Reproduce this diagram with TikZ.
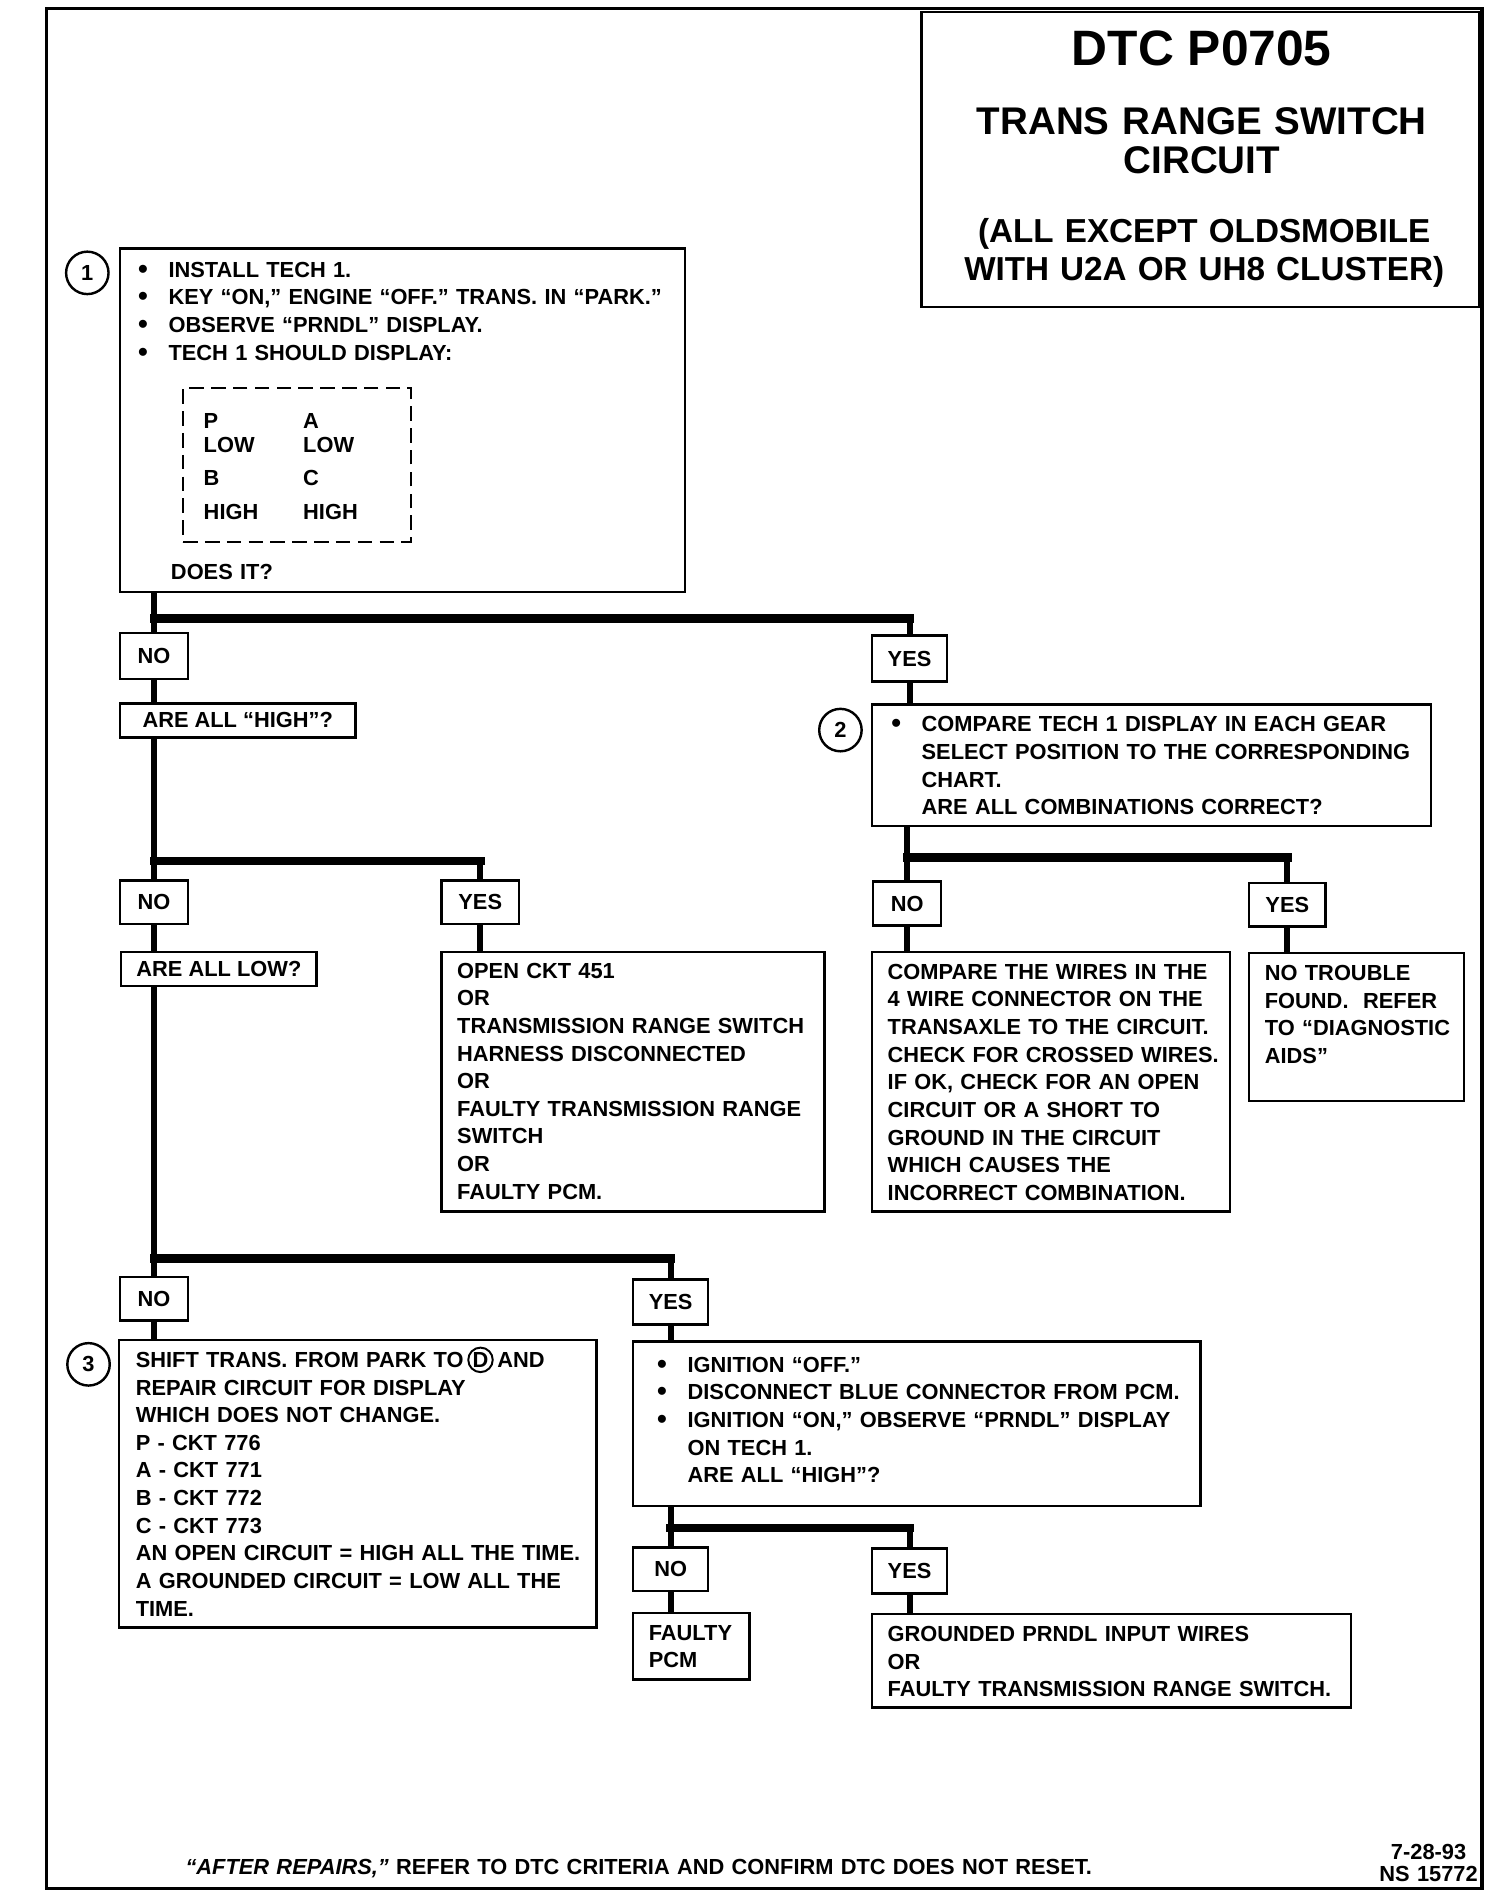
\documentclass[tikz,border=0pt]{standalone}
\usepackage{fontspec}
\setmainfont{Liberation Sans}
\usetikzlibrary{calc}
\tikzset{
  boxst/.style={draw, line width=1pt, inner sep=0pt, outer sep=0pt},
  lbl/.style={font=\fontsize{9}{11}\selectfont\bfseries},
  txt/.style={anchor=base west, inner sep=0pt, outer sep=0pt, align=left,
              font=\fontsize{9}{11.4}\selectfont\bfseries},
  vl/.style={line width=2.5pt},
  hb/.style={line width=3.6pt, line cap=rect},
  numc/.style={circle, draw, line width=1pt, minimum size=17.5pt, inner sep=0pt,
               font=\fontsize{9}{10}\selectfont\bfseries},
  ttl/.style={anchor=base, inner sep=0pt, align=center, text width=225pt,
              font=\fontsize{15.9}{16}\selectfont\bfseries}
}
\newcommand\mybox[5]{\node[boxst, minimum width={(#4-#2)*0.5pt}, minimum height={(#5-#3)*0.5pt}] (#1) at ({(#2+#4)/2},{(#3+#5)/2}) {};}
\newcommand\mylbox[6]{\node[boxst, lbl, minimum width={(#4-#2)*0.5pt}, minimum height={(#5-#3)*0.5pt}] (#1) at ({(#2+#4)/2},{(#3+#5)/2}) {#6};}
\newcommand\bul{\leavevmode\llap{{\fontsize{11.5}{11.4}\selectfont\raisebox{-0.4pt}{\textbullet}}\hspace{8.5pt}}}
\newcommand\circD{\tikz[baseline=(dcirc.base)]\node[circle, draw, line width=0.8pt, inner sep=0.4pt, minimum size=9pt] (dcirc) {D};}
\begin{document}
\begin{tikzpicture}[x=0.5pt,y=-0.5pt]
\useasboundingbox (0,0) rectangle (1240,1570);
\fill[white] (0,0) rectangle (1240,1570);
% frame and title
\node[draw, line width=1.3pt, inner sep=0pt, minimum width=592pt, minimum height=775pt] (frame) at (630,782) {};
\mybox{title}{760}{10}{1220}{253}
\node[anchor=base, inner sep=0pt, font=\fontsize{20.5}{22}\selectfont\bfseries] (tt1) at (991,54) {DTC P0705};
\node[ttl] (tt2) at (991,111) {TRANS RANGE SWITCH\\CIRCUIT};
\node[ttl, font=\fontsize{13.7}{15.5}\selectfont\bfseries] (tt3) at (993,200) {(ALL EXCEPT OLDSMOBILE\\WITH U2A OR UH8 CLUSTER)};
% box 1
\mybox{b1}{99}{205}{565}{488}
\node[numc] (c1) at (72,225) {1};
\node[txt, text width=212pt] (b1t) at (139,228.5) {\bul INSTALL TECH 1.\\\bul KEY “ON,” ENGINE “OFF.” TRANS. IN “PARK.”\\\bul OBSERVE “PRNDL” DISPLAY.\\\bul TECH 1 SHOULD DISPLAY:};
\node[draw, dashed, dash pattern=on 6pt off 3pt, line width=0.9pt, inner sep=0pt, minimum width=94pt, minimum height=63.5pt] (dsh) at (245,383.5) {};
\node[txt, text width=30pt] (dc1) at (168,353.5) {P\\[-1.4pt]LOW\\[2.1pt]B\\[2.6pt]HIGH};
\node[txt, text width=30pt] (dc2) at (250,353.5) {A\\[-1.4pt]LOW\\[2.1pt]C\\[2.6pt]HIGH};
\node[txt, text width=60pt] (doesit) at (141,477.5) {DOES IT?};
% level 1
\mylbox{no1}{99}{522}{155}{560}{NO}
\mylbox{yes1}{719}{524}{781}{562}{YES}
\mylbox{aah}{99}{580}{293}{608}{ARE ALL “HIGH”?\hspace{5pt}}
% box 2
\mybox{b2}{719}{581}{1180}{681}
\node[numc] (c2) at (693,602) {2};
\node[txt, text width=208pt] (b2t) at (760,603.5) {\bul COMPARE TECH 1 DISPLAY IN EACH GEAR\\SELECT POSITION TO THE CORRESPONDING\\CHART.\\ARE ALL COMBINATIONS CORRECT?};
% level 2 left
\mylbox{no2}{99}{726}{155}{762}{NO}
\mylbox{yes2}{364}{726}{428}{762}{YES}
\mylbox{aal}{100}{785}{261}{813}{ARE ALL LOW?}
\mybox{open}{364}{785}{680}{999}
\node[txt, text width=150pt] (opent) at (377,806.5) {OPEN CKT 451\\OR\\TRANSMISSION RANGE SWITCH\\HARNESS DISCONNECTED\\OR\\FAULTY TRANSMISSION RANGE\\SWITCH\\OR\\FAULTY PCM.};
% level 2 right
\mylbox{no3}{720}{727}{776}{763}{NO}
\mylbox{yes3}{1030}{728}{1093}{764}{YES}
\mybox{cmp}{719}{785}{1014}{999}
\node[txt, text width=140pt] (cmpt) at (732,807.5) {COMPARE THE WIRES IN THE\\4 WIRE CONNECTOR ON THE\\TRANSAXLE TO THE CIRCUIT.\\CHECK FOR CROSSED WIRES.\\IF OK, CHECK FOR AN OPEN\\CIRCUIT OR A SHORT TO\\GROUND IN THE CIRCUIT\\WHICH CAUSES THE\\INCORRECT COMBINATION.};
\mybox{ntf}{1030}{786}{1207}{908}
\node[txt, text width=81pt] (ntft) at (1043,808.5) {NO TROUBLE\\FOUND.\ \ REFER\\TO “DIAGNOSTIC\\AIDS”};
% level 3
\mylbox{no4}{99}{1053}{155}{1089}{NO}
\mylbox{yes4}{522}{1055}{584}{1092}{YES}
\mybox{b3}{98}{1105}{492}{1342}
\node[numc] (c3) at (73,1125) {3};
\node[txt, text width=188pt] (b3t) at (112,1127.5) {SHIFT TRANS. FROM PARK TO\,\circD\,AND\\REPAIR CIRCUIT FOR DISPLAY\\WHICH DOES NOT CHANGE.\\P - CKT 776\\A - CKT 771\\B - CKT 772\\C - CKT 773\\AN OPEN CIRCUIT = HIGH ALL THE TIME.\\A GROUNDED CIRCUIT = LOW ALL THE\\TIME.};
\mybox{ign}{522}{1106}{990}{1242}
\node[txt, text width=210pt] (ignt) at (567,1131.5) {\bul IGNITION “OFF.”\\\bul DISCONNECT BLUE CONNECTOR FROM PCM.\\\bul IGNITION “ON,” OBSERVE “PRNDL” DISPLAY\\ON TECH 1.\\ARE ALL “HIGH”?};
% level 4
\mylbox{no5}{522}{1276}{584}{1312}{NO}
\mylbox{yes5}{719}{1277}{781}{1314}{YES}
\mybox{fpcm}{522}{1330}{618}{1385}
\node[txt, text width=40pt] (fpcmt) at (535,1352.5) {FAULTY\\PCM};
\mybox{gnd}{719}{1331}{1114}{1408}
\node[txt, text width=190pt] (gndt) at (732,1353.5) {GROUNDED PRNDL INPUT WIRES\\OR\\FAULTY TRANSMISSION RANGE SWITCH.};
% footer
\node[txt, text width=390pt] (foot) at (153,1545.5) {{\itshape “AFTER REPAIRS,”} REFER TO DTC CRITERIA AND CONFIRM DTC DOES NOT RESET.};
\node[anchor=base, inner sep=0pt, align=center, text width=48pt, font=\fontsize{9}{9}\selectfont\bfseries] (date) at (1178,1533.5) {7-28-93\\NS 15772};
% connectors
\coordinate (j1) at (0,510);
\coordinate (j2) at (0,710);
\coordinate (j3) at (0,707);
\coordinate (j4) at (0,1038);
\coordinate (j5) at (0,1260);
\draw[vl] (b1.south -| no1.north) -- (no1.north);
\draw[hb] (no1.north |- j1) -- (yes1.north |- j1);
\draw[vl] (yes1.north |- j1) -- (yes1.north);
\draw[vl] (no1.south) -- (aah.north -| no1.south);
\draw[vl] (yes1.south) -- (b2.north -| yes1.south);
\draw[vl] (aah.south -| no2.north) -- (no2.north);
\draw[hb] (no2.north |- j2) -- (yes2.north |- j2);
\draw[vl] (yes2.north |- j2) -- (yes2.north);
\draw[vl] (no2.south) -- (aal.north -| no2.south);
\draw[vl] (yes2.south) -- (open.north -| yes2.south);
\draw[vl] (b2.south -| no3.north) -- (no3.north);
\draw[hb] (no3.north |- j3) -- (yes3.north |- j3);
\draw[vl] (yes3.north |- j3) -- (yes3.north);
\draw[vl] (no3.south) -- (cmp.north -| no3.south);
\draw[vl] (yes3.south) -- (ntf.north -| yes3.south);
\draw[vl] (aal.south -| no4.north) -- (no4.north);
\draw[hb] (no4.north |- j4) -- (yes4.north |- j4);
\draw[vl] (yes4.north |- j4) -- (yes4.north);
\draw[vl] (no4.south) -- (b3.north -| no4.south);
\draw[vl] (yes4.south) -- (ign.north -| yes4.south);
\draw[vl] (ign.south -| no5.north) -- (no5.north);
\draw[hb] (no5.north |- j5) -- (yes5.north |- j5);
\draw[vl] (yes5.north |- j5) -- (yes5.north);
\draw[vl] (no5.south) -- (fpcm.north -| no5.south);
\draw[vl] (yes5.south) -- (gnd.north -| yes5.south);
\end{tikzpicture}
\end{document}
